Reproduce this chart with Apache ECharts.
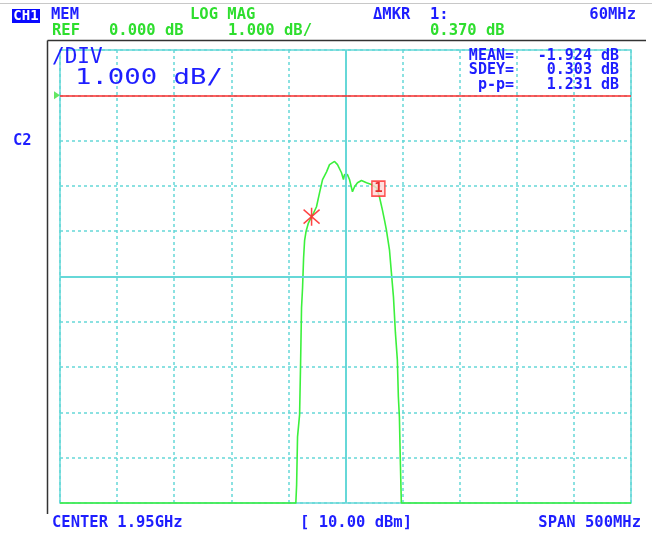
<!DOCTYPE html>
<html>
<head>
<meta charset="utf-8">
<script src="https://cdn.jsdelivr.net/npm/echarts@6/dist/echarts.min.js"></script>
<style>
  html, body { margin: 0; padding: 0; background: #ffffff; }
  #chart { width: 652px; height: 535px; }
</style>
</head>
<body>
<div id="chart"></div>
<script>
// trace: frequency (MHz) / level (dB)
var freqMHz = [1700, 1906.5, 1907.2, 1908, 1909.8, 1910.7, 1911.5, 1912.4, 1913.3, 1914.2,
    1915.5, 1917.5, 1920.3, 1922, 1924.6, 1927.3, 1929.9, 1933.4, 1936, 1940.4,
    1943, 1946.5, 1948.2, 1949.1, 1951.7, 1953.5, 1956.1, 1957.9, 1960.5, 1964,
    1968.4, 1972.7, 1977.1, 1979.7, 1982.3, 1984.1, 1985.8, 1988.5, 1990.2, 1992,
    1993.7, 1995.4, 1996.3, 1997.2, 1998.1, 1998.9, 2200];
var levelDb = [-9, -9, -8.6, -7.54, -7.05, -5.88, -4.69, -4.25, -3.59, -3.2,
    -3.0, -2.82, -2.68, -2.6, -2.46, -2.15, -1.86, -1.69, -1.53, -1.46,
    -1.53, -1.71, -1.86, -1.75, -1.75, -1.86, -2.13, -2.02, -1.93, -1.88,
    -1.93, -1.97, -2.04, -2.24, -2.53, -2.75, -2.97, -3.41, -3.92, -4.45,
    -5.24, -5.84, -6.66, -7.10, -8.16, -9, -9];

var refMarker = [1920.3, -2.68];     // delta reference marker (X)
var marker1 = [1978.8, -2.06];       // marker 1 label box
var refLevel = 0;                    // REF 0.000 dB
var centerFreq = 1950;
var centerLevel = -4;

var xMin = 1700, xMax = 2200, xStep = 50;
var yMin = -9, yMax = 1, yStep = 1;

var headerTexts = {
    mem: 'MEM', logMag: 'LOG MAG', ref: 'REF', refVal: '0.000 dB', scale: '1.000 dB/',
    dmkr: '\u0394MKR', mkrNo: '1:', mkrFreq: '60MHz', mkrVal: '0.370 dB'
};
var statLabels = ['MEAN=', 'SDEY=', 'p-p='];
var statValues = ['-1.924 dB', '0.303 dB', '1.231 dB'];
var footer = ['CENTER 1.95GHz', '[ 10.00 dBm]', 'SPAN 500MHz'];

var BLUE = '#1e1eff';
var GREEN = '#2ede2e';
var CYAN = '#66d8d8';
var TRACE = '#3cf03c';
var RED = '#ff2a2a';
var MONO = '"DejaVu Sans Mono", "Liberation Mono", monospace';

var chart = echarts.init(document.getElementById('chart'));

var trace = [];
for (var i = 0; i < freqMHz.length; i++) {
    trace.push([freqMHz[i], levelDb[i]]);
}

function txt(x, y, text, color, size, align, extra) {
    var el = {
        type: 'text',
        x: x,
        y: y,
        z: 100,
        style: {
            text: text,
            fill: color,
            font: 'bold ' + size + 'px ' + MONO,
            align: align || 'left',
            textAlign: align || 'left',
            verticalAlign: 'middle',
            textVerticalAlign: 'middle'
        }
    };
    if (extra) {
        for (var k in extra) el[k] = extra[k];
    }
    return el;
}

var graphics = [
    // frame lines
    { type: 'line', z: 1, shape: { x1: 0, y1: 3.5, x2: 652, y2: 3.5 }, style: { stroke: '#c8c8c8', lineWidth: 1 } },
    { type: 'line', z: 1, shape: { x1: 47.5, y1: 40.5, x2: 646, y2: 40.5 }, style: { stroke: '#333333', lineWidth: 1.5 } },
    { type: 'line', z: 1, shape: { x1: 47.5, y1: 40.5, x2: 47.5, y2: 514 }, style: { stroke: '#333333', lineWidth: 1.5 } },
    // CH1 badge
    { type: 'rect', z: 99, shape: { x: 12, y: 9, width: 28, height: 14 }, style: { fill: '#0a0aff' } },
    txt(26, 16, 'CH1', '#ffffff', 14, 'center'),
    txt(51, 15, headerTexts.mem, BLUE, 15.5),
    txt(190, 15, headerTexts.logMag, GREEN, 15.5),
    txt(52, 31, headerTexts.ref, GREEN, 15.5),
    txt(109, 31, headerTexts.refVal, GREEN, 15.5),
    txt(228, 31, headerTexts.scale, GREEN, 15.5),
    txt(373, 15, headerTexts.dmkr, BLUE, 15.5),
    txt(430, 15, headerTexts.mkrNo, BLUE, 15.5),
    txt(636, 15, headerTexts.mkrFreq, BLUE, 15.5, 'right'),
    txt(430, 31, headerTexts.mkrVal, GREEN, 15.5),
    // big scale readout
    {
        type: 'text', x: 52, y: 58, z: 100,
        style: { text: '/DIV', fill: BLUE, font: '21px ' + MONO, align: 'left', verticalAlign: 'middle', textAlign: 'left', textVerticalAlign: 'middle' }
    },
    {
        type: 'text', x: 75, y: 79, z: 100, scaleX: 1.3,
        style: { text: '1.000 dB/', fill: BLUE, font: '21px ' + MONO, align: 'left', verticalAlign: 'middle', textAlign: 'left', textVerticalAlign: 'middle' }
    },
    txt(13, 141, 'C2', BLUE, 15.5)
];

for (var s = 0; s < statLabels.length; s++) {
    graphics.push(txt(514, 56 + s * 14.5, statLabels[s], BLUE, 15, 'right'));
    graphics.push(txt(619, 56 + s * 14.5, statValues[s], BLUE, 15, 'right'));
}
graphics.push(txt(52, 523, footer[0], BLUE, 15.5));
graphics.push(txt(300, 523, footer[1], BLUE, 15.5));
graphics.push(txt(641, 523, footer[2], BLUE, 15.5, 'right'));

var option = {
    animation: false,
    backgroundColor: '#ffffff',
    grid: {
        left: 60, right: 21, top: 50, bottom: 32,
        show: true, borderColor: CYAN, borderWidth: 1.5, backgroundColor: 'transparent'
    },
    xAxis: {
        type: 'value', min: xMin, max: xMax, interval: xStep,
        axisLine: { show: false }, axisTick: { show: false }, axisLabel: { show: false },
        splitLine: { show: true, lineStyle: { color: CYAN, width: 1.5, type: [3, 3] } }
    },
    yAxis: {
        type: 'value', min: yMin, max: yMax, interval: yStep,
        axisLine: { show: false }, axisTick: { show: false }, axisLabel: { show: false },
        splitLine: { show: true, lineStyle: { color: CYAN, width: 1.5, type: [3, 3] } }
    },
    graphic: graphics,
    series: [
        {
            type: 'line',
            data: [],
            silent: true,
            z: 1,
            markLine: {
                silent: true,
                symbol: 'none',
                label: { show: false },
                animation: false,
                data: [
                    { xAxis: centerFreq, lineStyle: { color: CYAN, width: 2, type: 'solid' } },
                    { yAxis: centerLevel, lineStyle: { color: CYAN, width: 2, type: 'solid' } }
                ]
            }
        },
        {
            type: 'line',
            data: trace,
            showSymbol: false,
            clip: false,
            z: 3,
            lineStyle: { color: TRACE, width: 1.6 },
            markLine: {
                silent: true,
                symbol: 'none',
                label: { show: false },
                animation: false,
                data: [
                    { yAxis: refLevel, lineStyle: { color: RED, width: 1.5, type: 'solid' } }
                ]
            }
        },
        {
            // reference position arrow
            type: 'scatter',
            data: [[xMin, refLevel]],
            clip: false,
            z: 5,
            symbol: 'triangle',
            symbolSize: [8, 6],
            symbolRotate: -90,
            symbolOffset: [-3, 0],
            itemStyle: { color: '#3ce03c' }
        },
        {
            // delta reference marker
            type: 'scatter',
            data: [refMarker],
            z: 6,
            symbol: 'path://M0,2 L16,16 M16,2 L0,16 M8,0 L8,18',
            symbolSize: [16, 18],
            itemStyle: { color: 'transparent', borderColor: '#ff3030', borderWidth: 1.6, opacity: 0.9 }
        },
        {
            // marker 1
            type: 'scatter',
            data: [marker1],
            z: 6,
            symbol: 'rect',
            symbolSize: [13, 15],
            itemStyle: { color: '#ffd6d6', borderColor: '#ff2a2a', borderWidth: 1.6 },
            label: {
                show: true, position: 'inside',
                formatter: '1', color: '#e00000',
                fontFamily: MONO, fontWeight: 'bold', fontSize: 14
            }
        }
    ]
};

chart.setOption(option);
</script>
</body>
</html>
